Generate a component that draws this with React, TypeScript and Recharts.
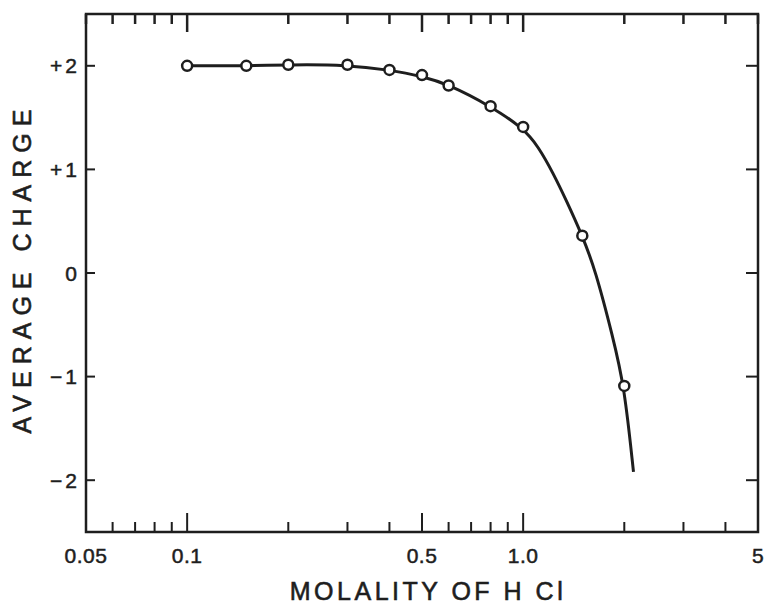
import React from "react";
import { ComposedChart, Line, Scatter, XAxis, YAxis, ReferenceArea } from "recharts";

// Measured points (molality of HCl, average charge)
const pointMolality = [0.1, 0.15, 0.2, 0.3, 0.4, 0.5, 0.6, 0.8, 1.0, 1.5, 2.0];
const pointCharge = [2.0, 2.0, 2.01, 2.01, 1.96, 1.91, 1.81, 1.61, 1.41, 0.36, -1.09];

// Smooth fitted curve
const curveMolality = [0.1, 0.15, 0.2, 0.3, 0.4, 0.5, 0.6, 0.8, 1.0, 1.11, 1.23, 1.34, 1.5, 1.64, 1.85, 2.0, 2.13];
const curveCharge = [2.0, 2.0, 2.01, 2.01, 1.96, 1.9, 1.82, 1.61, 1.4, 1.22, 0.96, 0.71, 0.36, 0.03, -0.62, -1.09, -1.92];

// Axis ticks
const xTicks = [0.05, 0.06, 0.07, 0.08, 0.09, 0.1, 0.2, 0.3, 0.4, 0.5, 0.6, 0.7, 0.8, 0.9, 1, 2, 3, 4, 5];
const xLongTicks = [0.1, 0.5, 1];
const xTickLabels: Record<string, string> = { "0.05": "0.05", "0.1": "0.1", "0.5": "0.5", "1": "1.0", "5": "5" };
const yTicks = [-2, -1, 0, 1, 2];
const yTickLabels: Record<string, string> = { "-2": "\u22122", "-1": "\u22121", "0": "0", "1": "+1", "2": "+2" };
const xDomain = [0.05, 5];
const yDomain = [-2.5, 2.5];

const pointData = pointMolality.map((x, i) => ({ x, y: pointCharge[i] }));
const curveData = curveMolality.map((x, i) => ({ x, y: curveCharge[i] }));

const INK = "#1e1e1e";
const FONT = "'Liberation Sans', Arial, sans-serif";

// layout
const CHART_W = 765;
const CHART_H = 606;
const MARGIN_TOP = 14;
const X_AXIS_H = 74;
const PLOT_H = CHART_H - MARGIN_TOP - X_AXIS_H;

const BottomTick = (props: any) => {
  const { x, y, payload } = props;
  const v = payload.value;
  const long = xLongTicks.includes(v);
  const label = xTickLabels[String(v)];
  const bottomY = Number(y);
  const topY = bottomY - PLOT_H;
  return (
    <g>
      <path d={`M${x},${bottomY}L${x},${bottomY - (long ? 19 : 10)}`} stroke={INK} strokeWidth={2} fill="none" />
      <path d={`M${x},${topY}L${x},${topY + (long ? 18 : 10)}`} stroke="#202020" strokeWidth={2.5} fill="none" />
      {label && (
        <text x={x} y={bottomY + 31} textAnchor="middle" fontSize={21} fontFamily={FONT} fill={INK} stroke={INK} strokeWidth={0.5} letterSpacing={0.5}>
          {label}
        </text>
      )}
    </g>
  );
};

const LeftTick = (props: any) => {
  const { x, y, payload } = props;
  const label = yTickLabels[String(payload.value)];
  return (
    <g>
      <path d={`M${x},${y}L${x + 9},${y}`} stroke={INK} strokeWidth={2} fill="none" />
      <text x={x - 6} y={y + 7.5} textAnchor="end" fontSize={21} fontFamily={FONT} fill={INK} stroke={INK} strokeWidth={0.5} letterSpacing={3}>
        {label}
      </text>
    </g>
  );
};

const RightTick = (props: any) => {
  const { x, y } = props;
  return <path d={`M${x},${y}L${x - 12},${y}`} stroke={INK} strokeWidth={2} fill="none" />;
};

const Dot = (props: any) => {
  const { cx, cy } = props;
  return <circle cx={cx} cy={cy} r={5} fill="#ffffff" stroke={INK} strokeWidth={2.5} />;
};

const YTitle = () => (
  <text
    x={31}
    y={268}
    transform="rotate(-90 31 268)"
    textAnchor="middle"
    fontSize={25}
    fontFamily={FONT}
    fill={INK}
    stroke={INK}
    strokeWidth={0.6}
    letterSpacing={7}
  >
    AVERAGE CHARGE
  </text>
);

const XTitle = () => (
  <text x={428} y={600} textAnchor="middle" fontSize={25} fontFamily={FONT} fill={INK} stroke={INK} strokeWidth={0.6} letterSpacing={3.5}>
    MOLALITY OF H Cl
  </text>
);

export default function App() {
  return (
    <div style={{ position: "absolute", left: 0, top: 0, width: CHART_W, height: CHART_H, background: "#fff" }}>
      <ComposedChart width={CHART_W} height={CHART_H} margin={{ top: MARGIN_TOP, right: 0, bottom: 0, left: 0 }}>
        <XAxis
          xAxisId="bottom"
          orientation="bottom"
          type="number"
          dataKey="x"
          scale="log"
          domain={xDomain}
          allowDataOverflow
          ticks={xTicks}
          interval={0}
          height={X_AXIS_H}
          tickSize={0}
          tickMargin={0}
          tickLine={false}
          axisLine={false}
          tick={<BottomTick />}
          label={<XTitle />}
        />
        <YAxis
          yAxisId="left"
          orientation="left"
          type="number"
          domain={yDomain}
          allowDataOverflow
          ticks={yTicks}
          interval={0}
          width={86}
          tickSize={0}
          tickMargin={0}
          tickLine={false}
          axisLine={false}
          tick={<LeftTick />}
          label={<YTitle />}
        />
        <YAxis
          yAxisId="right"
          orientation="right"
          type="number"
          domain={yDomain}
          allowDataOverflow
          ticks={yTicks}
          interval={0}
          width={7}
          tickSize={0}
          tickMargin={0}
          tickLine={false}
          axisLine={false}
          tick={<RightTick />}
        />
        <ReferenceArea
          xAxisId="bottom"
          yAxisId="left"
          x1={xDomain[0]}
          x2={xDomain[1]}
          y1={yDomain[0]}
          y2={yDomain[1]}
          fill="none"
          fillOpacity={0}
          stroke={INK}
          strokeWidth={2.5}
          strokeOpacity={1}
          ifOverflow="visible"
        />
        <Line
          xAxisId="bottom"
          yAxisId="left"
          data={curveData}
          dataKey="y"
          type="basis"
          stroke={INK}
          strokeWidth={3}
          dot={false}
          activeDot={false}
          isAnimationActive={false}
        />
        <Scatter
          xAxisId="bottom"
          yAxisId="right"
          data={pointData}
          dataKey="y"
          shape={<Dot />}
          isAnimationActive={false}
        />
      </ComposedChart>
    </div>
  );
}
